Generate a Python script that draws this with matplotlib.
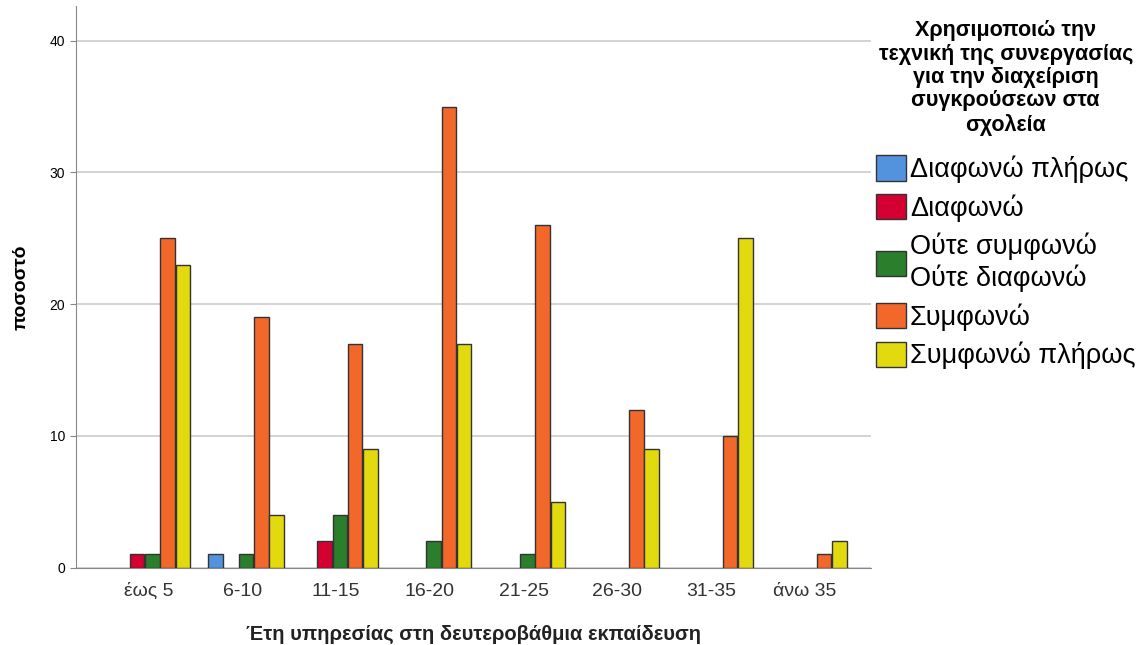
import numpy as np
import matplotlib
matplotlib.use('Agg')
import matplotlib.pyplot as plt

categories = ['έως 5', '6-10', '11-15', '16-20', '21-25', '26-30', '31-35', 'άνω 35']
series_names = ['Διαφωνώ πλήρως', 'Διαφωνώ', 'Ούτε συμφωνώ\nΟύτε διαφωνώ', 'Συμφωνώ', 'Συμφωνώ πλήρως']
diafono_pliros = [0, 1, 0, 0, 0, 0, 0, 0]
diafono = [1, 0, 2, 0, 0, 0, 0, 0]
oute = [1, 1, 4, 2, 1, 0, 0, 0]
symfono = [25, 19, 17, 35, 26, 12, 10, 1]
symfono_pliros = [23, 4, 9, 17, 5, 9, 25, 2]
colors = ['#5393DE', '#D40032', '#2B7E2B', '#F2682A', '#E2D90E']
legend_title = 'Χρησιμοποιώ την\nτεχνική της συνεργασίας\nγια την διαχείριση\nσυγκρούσεων στα\nσχολεία'

plt.rcParams['font.family'] = ['Liberation Sans', 'DejaVu Sans']

fig = plt.figure(figsize=[11.44, 6.45], dpi=100)
ax = fig.add_axes([0.066, 0.12, 0.695, 0.87])

series = [diafono_pliros, diafono, oute, symfono, symfono_pliros]
x = np.arange(len(categories))
width = 0.163
for itr, (vals, col, name) in enumerate(zip(series, colors, series_names)):
    # zero counts are not drawn at all in the original
    vals = np.where(np.array(vals) == 0, np.nan, vals)
    ax.bar(x + (itr - 2) * width + 0.04, vals, width * 0.95, color=col,
           edgecolor='#333333', linewidth=1, label=name, zorder=3)

ax.set_xlim(-0.78, 7.7)
ax.set_ylim(0, 42.6)
ax.set_yticks([0, 10, 20, 30, 40])
ax.yaxis.grid(True, color='#cccccc', linewidth=1.2, zorder=0)
ax.set_xticks(x)
ax.set_xticklabels(categories, fontsize=14, color='#333333')
ax.tick_params(axis='x', length=0, pad=11)
ax.tick_params(axis='y', labelsize=10, length=4, color='#888888')
for side in ['top', 'right']:
    ax.spines[side].set_visible(False)
for side in ['left', 'bottom']:
    ax.spines[side].set_color('#888888')

ax.set_ylabel('ποσοστό', fontsize=14, fontweight='bold', labelpad=14)
ax.set_xlabel('Έτη υπηρεσίας στη δευτεροβάθμια εκπαίδευση', fontsize=14.5,
              fontweight='bold', labelpad=18, color='#222222')

leg = ax.legend(loc='upper left', bbox_to_anchor=(1.0, 0.985), frameon=False,
                fontsize=19.5, title=legend_title,
                title_fontproperties={'size': 15.5, 'weight': 'bold'},
                handlelength=1.1, handleheight=1.05, handletextpad=0.15,
                labelspacing=0.4, borderaxespad=0, borderpad=0.2)
leg._legend_box.align = 'center'
leg._legend_box.sep = 14
for h in leg.legend_handles:
    h.set_edgecolor('#333333')
plt.setp(leg.get_title(), multialignment='center', linespacing=1.15)

fig.savefig('out.png', dpi=100)
